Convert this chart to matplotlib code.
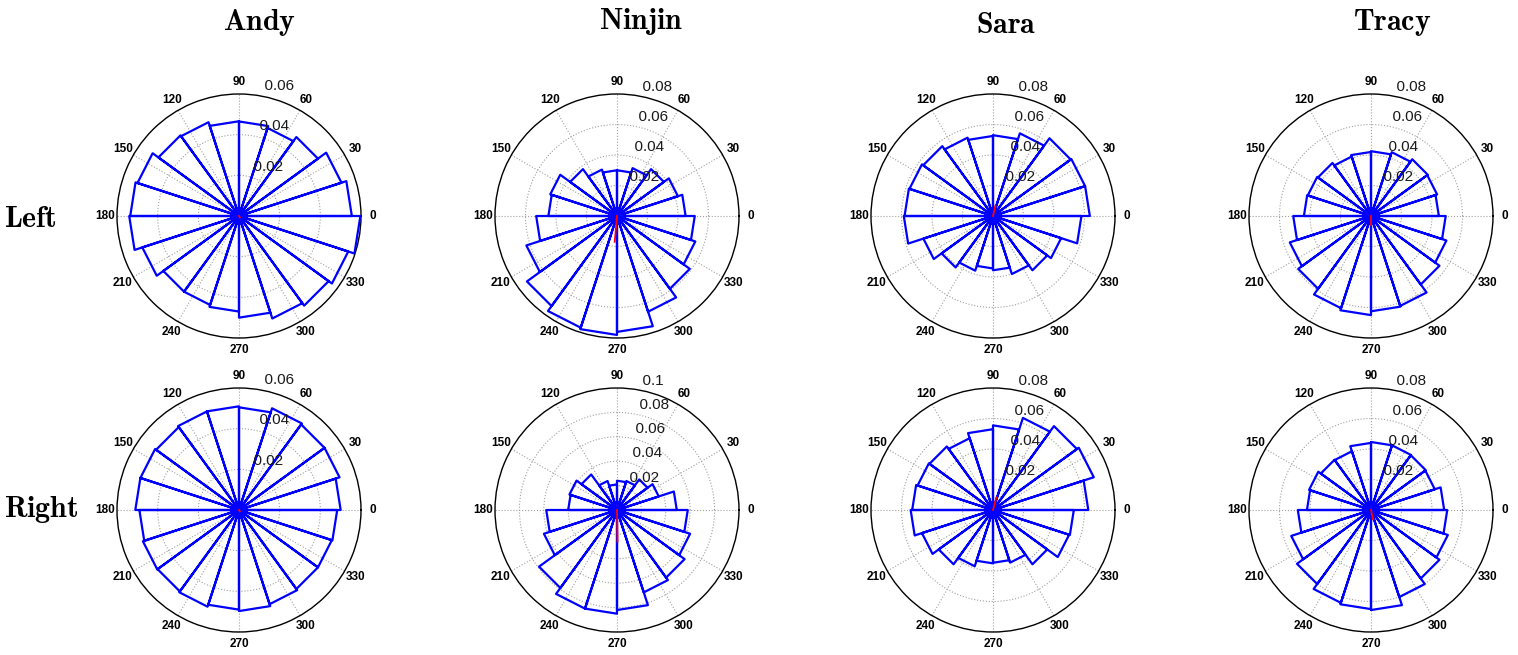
import numpy as np
import matplotlib.pyplot as plt

plt.rcParams['mathtext.fontset'] = 'cm'

subjects = ['Andy', 'Ninjin', 'Sara', 'Tracy']
sides = ['Left', 'Right']

# 20 angular bins of 18 degrees, counter-clockwise from 0
bin_edges_deg = np.arange(0, 361, 18)

# relative frequency per bin, left hand
andy_left = [0.0555, 0.053, 0.048, 0.0455, 0.0465, 0.0466, 0.0485, 0.049, 0.0525, 0.0535,
             0.054, 0.050, 0.046, 0.046, 0.047, 0.050, 0.053, 0.0545, 0.0565, 0.0597]
ninjin_left = [0.045, 0.042, 0.038, 0.033, 0.030, 0.030, 0.032, 0.038, 0.046, 0.045,
               0.053, 0.0625, 0.073, 0.077, 0.078, 0.076, 0.066, 0.059, 0.054, 0.051]
sara_left = [0.0635, 0.0635, 0.063, 0.057, 0.053, 0.0525, 0.054, 0.0566, 0.0576, 0.058,
             0.0585, 0.048, 0.0417, 0.0377, 0.0344, 0.0356, 0.040, 0.044, 0.047, 0.058]
tracy_left = [0.0445, 0.0456, 0.046, 0.044, 0.0425, 0.042, 0.041, 0.043, 0.0436, 0.044,
              0.051, 0.056, 0.059, 0.0636, 0.065, 0.0625, 0.062, 0.0555, 0.052, 0.049]

# relative frequency per bin, right hand
andy_right = [0.050, 0.052, 0.052, 0.0526, 0.0505, 0.051, 0.051, 0.0504, 0.051, 0.051,
              0.049, 0.0497, 0.0495, 0.050, 0.049, 0.0497, 0.0487, 0.048, 0.048, 0.0483]
ninjin_right = [0.049, 0.036, 0.031, 0.025, 0.024, 0.021, 0.025, 0.036, 0.041, 0.040,
                0.058, 0.063, 0.079, 0.085, 0.085, 0.082, 0.071, 0.0685, 0.063, 0.058]
sara_right = [0.0625, 0.0695, 0.068, 0.0635, 0.0555, 0.053, 0.0495, 0.0515, 0.052, 0.053,
              0.054, 0.049, 0.044, 0.0388, 0.035, 0.0346, 0.0363, 0.044, 0.0525, 0.053]
tracy_right = [0.048, 0.044, 0.0444, 0.0446, 0.0446, 0.044, 0.0405, 0.0407, 0.0427, 0.042,
               0.048, 0.055, 0.060, 0.064, 0.065, 0.0656, 0.060, 0.0555, 0.053, 0.050]

left_counts = [andy_left, ninjin_left, sara_left, tracy_left]
right_counts = [andy_right, ninjin_right, sara_right, tracy_right]

rmax_left = [0.06, 0.08, 0.08, 0.08]
rmax_right = [0.06, 0.1, 0.08, 0.08]

# mean resultant vector (direction in degrees, length)
mean_dir_left = [300, 265, 77, 270]
mean_len_left = [0.0008, 0.017, 0.0067, 0.006]
mean_dir_right = [300, 271, 75, 282]
mean_len_right = [0.0008, 0.026, 0.0085, 0.0062]

W, H = 1518, 655
fig = plt.figure(figsize=(W / 100, H / 100), dpi=100)

centers_x = [239, 617, 993, 1371]
centers_y = [216, 510]
R = 122


def rose(ax, counts, rmax, mdir, mlen):
    edges = np.deg2rad(bin_edges_deg)
    th, rr = [], []
    for k, v in enumerate(counts):
        th += [0, edges[k], edges[k + 1], 0]
        rr += [0, v, v, 0]
    ax.plot(th, rr, color='blue', lw=1.6, zorder=3)
    ax.plot([0, np.deg2rad(mdir)], [0, mlen], color='red', lw=1.3, zorder=4)

    ticks = np.arange(0.02, rmax + 1e-9, 0.02)
    ax.set_ylim(0, rmax)
    ax.set_yticks(ticks[:-1])
    ax.set_yticklabels([])
    for t in ticks:
        ax.text(np.deg2rad(82), t + 0.001, '  ' + f'{t:g}', ha='left', va='bottom',
                fontsize=11, color='#1a1a1a', family='Liberation Sans', zorder=5)

    # spoke labels sit just outside the rim
    ang = np.arange(0, 360, 30)
    ax.set_thetagrids(ang, [''] * len(ang))
    for a in ang:
        ax.text(np.deg2rad(a), rmax * 1.1, str(a), ha='center', va='center',
                fontsize=8.5, fontweight='bold', family='Liberation Sans')
    ax.grid(True, color='#a0a0a0', ls=':', lw=0.8)
    ax.spines['polar'].set_color('black')
    ax.spines['polar'].set_linewidth(1.0)


for row, (counts_row, rmax_row, dirs, lens) in enumerate(
        [(left_counts, rmax_left, mean_dir_left, mean_len_left),
         (right_counts, rmax_right, mean_dir_right, mean_len_right)]):
    for col in range(4):
        cx, cy = centers_x[col], centers_y[row]
        ax = fig.add_axes([(cx - R) / W, (H - cy - R) / H, 2 * R / W, 2 * R / H],
                          projection='polar')
        rose(ax, counts_row[col], rmax_row[col], dirs[col], lens[col])

title_x = [259, 641, 1006, 1392]
title_base = [30, 29, 33, 30]
for name, x, b in zip(subjects, title_x, title_base):
    fig.text(x / W, (H - b) / H, r'$\mathbf{' + name + '}$', ha='center', va='baseline',
             fontsize=21.5)

for name, b in zip(sides, [227, 517]):
    fig.text(4 / W, (H - b) / H, r'$\mathbf{' + name + '}$', ha='left', va='baseline',
             fontsize=21.5)

fig.savefig('out.png', dpi=100)
